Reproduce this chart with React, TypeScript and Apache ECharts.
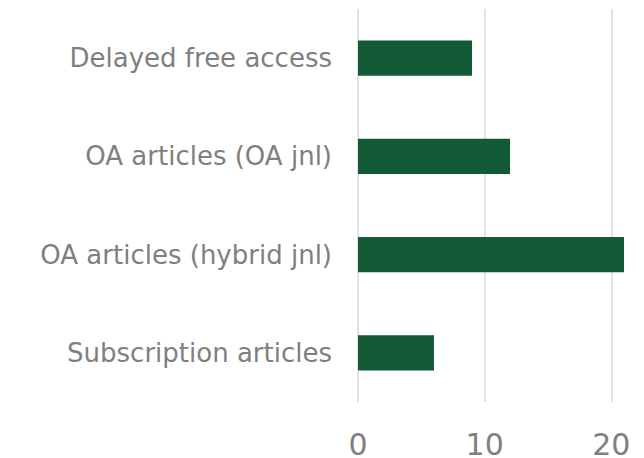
import React, { useEffect, useRef } from "react";
import * as echarts from "echarts";

const categories = [
  "Subscription articles",
  "OA articles (hybrid jnl)",
  "OA articles (OA jnl)",
  "Delayed free access",
];
const values = [6, 21, 12, 9];

export default function App() {
  const ref = useRef<HTMLDivElement>(null);
  useEffect(() => {
    const chart = echarts.init(ref.current!, null, { renderer: "svg" });
    chart.setOption({
      animation: false,
      grid: {
        left: 358,
        top: 9,
        right: -94,
        height: 393,
        containLabel: false,
        outerBoundsMode: "none",
      },
      xAxis: {
        type: "value",
        min: 0,
        max: 30,
        interval: 10,
        axisLine: { show: false },
        axisTick: { show: false },
        splitLine: { show: true, lineStyle: { color: "#d9d9d9", width: 1.5 } },
        axisLabel: {
          color: "#7f7f7f",
          fontFamily: "DejaVu Sans",
          fontSize: 30,
          lineHeight: 22,
          margin: 31,
        },
      },
      yAxis: {
        type: "category",
        data: categories,
        axisLine: { show: false },
        axisTick: { show: false },
        axisLabel: {
          color: "#7f7f7f",
          fontFamily: "DejaVu Sans",
          fontSize: 26,
          margin: 26,
        },
      },
      series: [
        {
          type: "bar",
          data: values,
          barWidth: "36%",
          itemStyle: { color: "#135a37" },
        },
      ],
    });
    return () => chart.dispose();
  }, []);
  return (
    <div
      ref={ref}
      style={{ width: 644, height: 458, position: "absolute", left: 0, top: 0 }}
    />
  );
}
